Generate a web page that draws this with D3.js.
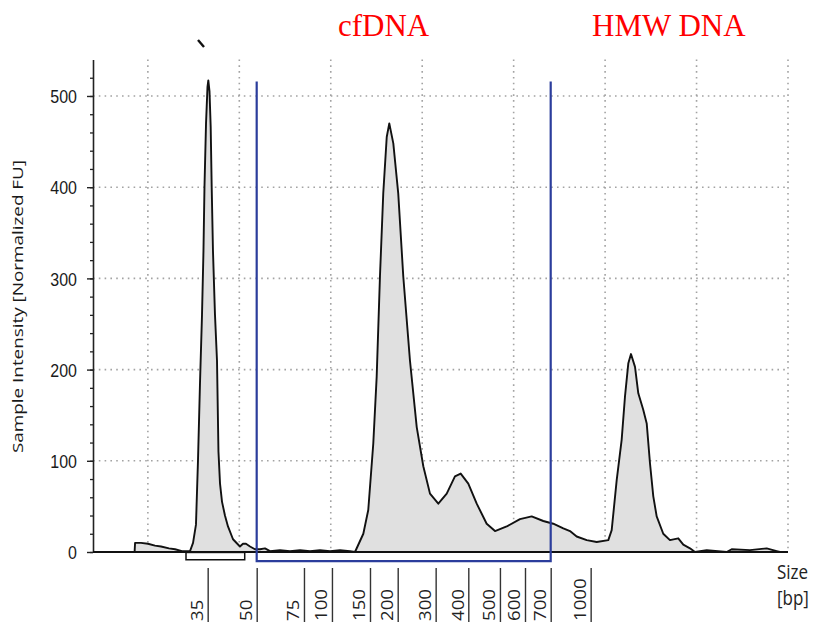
<!DOCTYPE html>
<html>
<head>
<meta charset="utf-8">
<script src="https://cdn.jsdelivr.net/npm/d3@7"></script>
<style>
	body { margin: 0; background: #fff; }
	svg { display: block; }
</style>
</head>
<body>
<svg id="chart" width="813" height="622"></svg>
<script>
// electropherogram trace: migration time (s) and intensity (FU)
const traceTime = [38.55, 38.6, 39.25, 40.01, 40.78, 41.44, 42.31, 42.97, 43.73, 44.28, 44.61, 44.94, 45.26, 45.48,
	45.70, 45.92, 46.08, 46.19, 46.36, 46.52, 46.61, 46.74, 46.87, 46.98, 47.12, 47.34, 47.56, 47.72, 47.89,
	48.11, 48.43, 48.76, 49.31, 50.07, 50.40, 50.73, 51.17, 51.71, 52.26, 52.81, 53.35, 54.45, 55.54, 56.64,
	57.73, 58.82, 59.92, 61.01, 62.10, 62.65, 63.56, 64.10, 64.65, 65.02, 65.38, 65.74, 66.12, 66.40, 66.84,
	67.38, 67.93, 68.66, 69.40, 70.12, 70.85, 71.76, 72.68, 73.58, 74.21, 75.04, 75.96, 77.05, 77.96, 79.24,
	80.69, 81.97, 83.24, 84.33, 85.43, 86.16, 86.89, 87.99, 89.08, 90.35, 90.72, 91.27, 91.81, 92.17, 92.54,
	92.83, 93.27, 93.63, 94.17, 94.55, 94.91, 95.27, 95.64, 96.36, 97.09, 98.00, 98.55, 99.28, 99.83, 101.11,
	103.29, 103.84, 105.84, 107.67, 108.76, 109.12];
const traceFU = [0, 10, 10, 9, 7, 6, 4, 3, 1, 1, 1, 10, 30, 100,
	185, 260, 330, 400, 470, 510, 517, 505, 466, 400, 330, 260, 210, 110, 75,
	55, 40, 28, 14, 6, 9, 9, 6, 3, 3, 4, 1, 2, 1, 2,
	1, 2, 1, 2, 1, 0, 20, 46, 119, 192, 302, 393, 455, 470, 448,
	393, 302, 210, 137, 94, 64, 53, 64, 83, 86, 75, 53, 31, 23, 28,
	36, 39, 34, 31, 26, 23, 17, 13, 11, 13, 24, 79, 123, 170, 207,
	217, 203, 174, 156, 141, 97, 61, 39, 20, 13, 15, 8, 4, 0, 2,
	0, 3, 2, 4, 1, 0];

// size ladder (bp) and where each band sits on the time axis
const ladderBp = [35, 50, 75, 100, 150, 200, 300, 400, 500, 600, 700, 1000];
const ladderTime = [46.54, 51.90, 57.07, 60.13, 64.29, 67.32, 71.47, 75.04, 78.50, 81.24, 84.05, 88.42];

const gridTime = [40, 50, 60, 70, 80, 90, 100, 110];
const yMajor = [0, 100, 200, 300, 400, 500];
const yMinor = d3.range(0, 540, 20);

const regionTime = [51.90, 84.05];   // cfDNA window (50 - 700 bp)
const regionFU = [-10, 516];
const markerTime = [44.17, 50.59];    // lower marker bracket
const markerFU = [-0.5, -8.5];

const svg = d3.select("#chart");

const x = d3.scaleLinear().domain([34, 110]).range([93, 788]);
const y = d3.scaleLinear().domain([0, 540]).range([552, 59.5]);

// dotted grid
svg.append("g")
	.selectAll("line")
	.data(gridTime)
	.enter().append("line")
	.attr("x1", d => x(d)).attr("x2", d => x(d))
	.attr("y1", y(540)).attr("y2", y(0))
	.attr("stroke", "#a3a3a3")
	.attr("stroke-width", 1.6)
	.attr("stroke-dasharray", "1.6,4.2");

svg.append("g")
	.selectAll("line")
	.data(yMajor.slice(1))
	.enter().append("line")
	.attr("x1", x(34)).attr("x2", x(110))
	.attr("y1", d => y(d)).attr("y2", d => y(d))
	.attr("stroke", "#a3a3a3")
	.attr("stroke-width", 1.6)
	.attr("stroke-dasharray", "1.6,4.2");

// trace
const pts = traceTime.map((t, i) => [t, traceFU[i]]);

svg.append("path")
	.datum(pts)
	.attr("fill", "#e0e0e0")
	.attr("d", d3.area().x(d => x(d[0])).y0(y(0)).y1(d => y(d[1])));

svg.append("path")
	.datum(pts)
	.attr("fill", "none")
	.attr("stroke", "#111")
	.attr("stroke-width", 1.9)
	.attr("stroke-linejoin", "round")
	.attr("d", d3.line().x(d => x(d[0])).y(d => y(d[1])));

// y axis: minor then major ticks
svg.append("g")
	.attr("transform", "translate(" + x(34) + ",0)")
	.call(d3.axisLeft(y).tickValues(yMinor).tickSize(3).tickFormat(""))
	.call(g => g.select(".domain").remove())
	.selectAll("line").attr("stroke", "#222").attr("stroke-width", 1.3);

const yAxis = svg.append("g")
	.attr("transform", "translate(" + x(34) + ",0)")
	.call(d3.axisLeft(y).tickValues(yMajor).tickSize(6).tickPadding(10).tickSizeOuter(0));
yAxis.select(".domain").attr("stroke", "#222").attr("stroke-width", 1.6);
yAxis.selectAll(".tick line").attr("stroke", "#222").attr("stroke-width", 1.4);
yAxis.selectAll(".tick text")
	.attr("fill", "#1a1a1a")
	.style("font-family", "'Liberation Sans', Arial, sans-serif")
	.style("font-size", "16px")
	.attr("dy", "0.36em")
	.attr("transform", "scale(1,1.18)");

// x axis baseline
svg.append("line")
	.attr("x1", x(34)).attr("x2", x(110))
	.attr("y1", y(0)).attr("y2", y(0))
	.attr("stroke", "#111")
	.attr("stroke-width", 2);

// ladder ticks under the plot
const bpAxis = svg.append("g")
	.attr("transform", "translate(0,568)")
	.call(d3.axisBottom(x).tickValues(ladderTime).tickSize(60).tickSizeOuter(0)
		.tickFormat((d, i) => ladderBp[i]));
bpAxis.select(".domain").remove();
bpAxis.selectAll(".tick line").attr("stroke", "#333").attr("stroke-width", 1.4);
bpAxis.selectAll(".tick text")
	.attr("x", null).attr("y", null).attr("dy", null)
	.attr("text-anchor", "start")
	.attr("fill", "#222")
	.style("font-family", "'Open Sans', 'Noto Sans', sans-serif")
	.style("font-size", "15.5px")
	.attr("transform", "translate(-5,53) scale(1,1.2) rotate(-90)");

// marker bracket and cfDNA window
svg.append("rect")
	.attr("x", x(markerTime[0]))
	.attr("y", y(markerFU[0]))
	.attr("width", x(markerTime[1]) - x(markerTime[0]))
	.attr("height", y(markerFU[1]) - y(markerFU[0]))
	.attr("fill", "none")
	.attr("stroke", "#111")
	.attr("stroke-width", 1.5);

svg.append("path")
	.attr("d", d3.line()([
		[x(regionTime[0]), y(regionFU[1])],
		[x(regionTime[0]), y(regionFU[0])],
		[x(regionTime[1]), y(regionFU[0])],
		[x(regionTime[1]), y(regionFU[1])]
	]))
	.attr("fill", "none")
	.attr("stroke", "#2b3d9c")
	.attr("stroke-width", 2.2);

// little stray mark above the marker peak
svg.append("line")
	.attr("x1", 198).attr("y1", 40).attr("x2", 204).attr("y2", 47)
	.attr("stroke", "#111").attr("stroke-width", 2.4);

// axis titles
svg.append("text")
	.attr("transform", "translate(23,306.5) rotate(-90)")
	.attr("text-anchor", "middle")
	.attr("textLength", 293)
	.attr("lengthAdjust", "spacingAndGlyphs")
	.attr("fill", "#1a1a1a")
	.style("font-family", "'Open Sans', 'Noto Sans', sans-serif")
	.style("font-size", "14.5px")
	.text("Sample Intensity [Normalized FU]");

svg.append("text")
	.attr("transform", "translate(777,579) scale(1,1.2)")
	.attr("fill", "#222")
	.style("font-family", "'Open Sans', 'Noto Sans', sans-serif")
	.style("font-size", "17px")
	.text("Size");

svg.append("text")
	.attr("transform", "translate(777,605) scale(1,1.2)")
	.attr("fill", "#222")
	.style("font-family", "'Open Sans', 'Noto Sans', sans-serif")
	.style("font-size", "17px")
	.text("[bp]");

// red region labels
svg.append("text")
	.attr("x", 338).attr("y", 36)
	.attr("fill", "#ff0000")
	.style("font-family", "'Liberation Serif', 'Times New Roman', serif")
	.style("font-size", "31px")
	.text("cfDNA");

svg.append("text")
	.attr("x", 592).attr("y", 36)
	.attr("fill", "#ff0000")
	.style("font-family", "'Liberation Serif', 'Times New Roman', serif")
	.style("font-size", "31px")
	.text("HMW DNA");
</script>
</body>
</html>
